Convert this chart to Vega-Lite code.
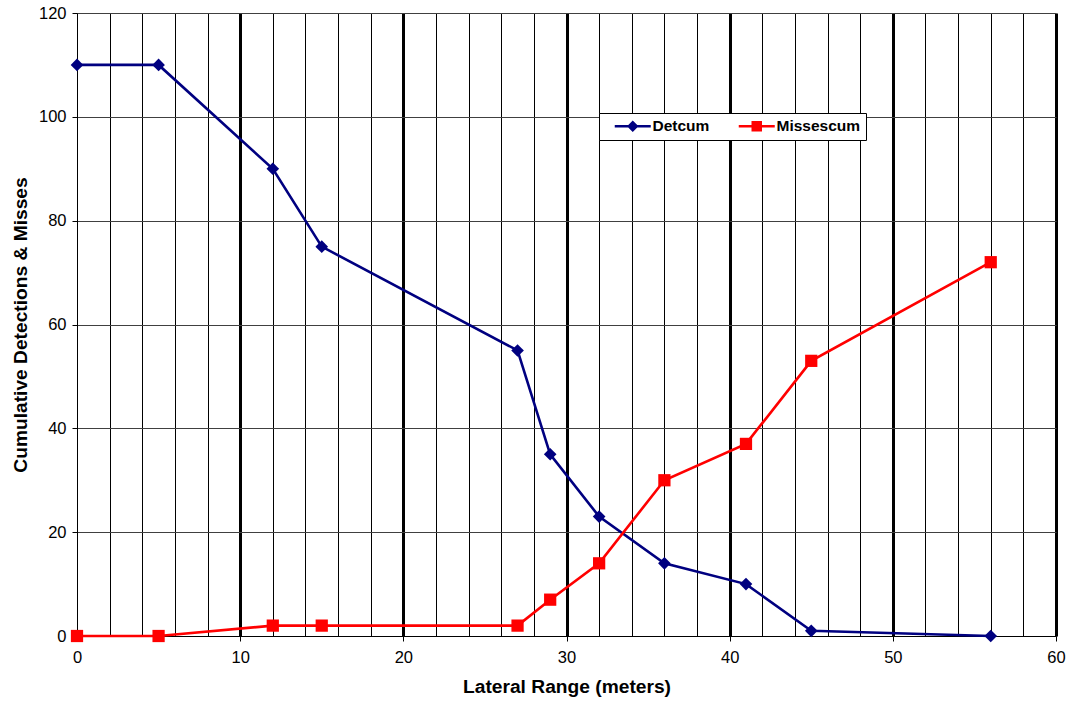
{
  "$schema": "https://vega.github.io/schema/vega-lite/v6.json",
  "autosize": "none",
  "width": 979,
  "height": 623,
  "padding": {"left": 77, "top": 13, "right": 16, "bottom": 69},
  "background": "white",
  "config": {"view": {"stroke": null}, "font": "Liberation Sans"},
  "data": {
    "values": [
      {"x": 0, "series": "Detcum", "value": 110},
      {"x": 5, "series": "Detcum", "value": 110},
      {"x": 12, "series": "Detcum", "value": 90},
      {"x": 15, "series": "Detcum", "value": 75},
      {"x": 27, "series": "Detcum", "value": 55},
      {"x": 29, "series": "Detcum", "value": 35},
      {"x": 32, "series": "Detcum", "value": 23},
      {"x": 36, "series": "Detcum", "value": 14},
      {"x": 41, "series": "Detcum", "value": 10},
      {"x": 45, "series": "Detcum", "value": 1},
      {"x": 56, "series": "Detcum", "value": 0},
      {"x": 0, "series": "Missescum", "value": 0},
      {"x": 5, "series": "Missescum", "value": 0},
      {"x": 12, "series": "Missescum", "value": 2},
      {"x": 15, "series": "Missescum", "value": 2},
      {"x": 27, "series": "Missescum", "value": 2},
      {"x": 29, "series": "Missescum", "value": 7},
      {"x": 32, "series": "Missescum", "value": 14},
      {"x": 36, "series": "Missescum", "value": 30},
      {"x": 41, "series": "Missescum", "value": 37},
      {"x": 45, "series": "Missescum", "value": 53},
      {"x": 56, "series": "Missescum", "value": 72}
    ]
  },
  "encoding": {
    "x": {
      "field": "x", "type": "quantitative",
      "scale": {"domain": [0, 60], "nice": false, "zero": false},
      "axis": {
        "title": "Lateral Range (meters)",
        "titleFont": "Liberation Sans", "titleFontSize": 19.2, "titleFontWeight": "bold", "titleColor": "black",
        "titlePadding": 12,
        "values": [0,2,4,6,8,10,12,14,16,18,20,22,24,26,28,30,32,34,36,38,40,42,44,46,48,50,52,54,56,58,60],
        "labelExpr": "datum.value % 10 === 0 ? datum.label : ''",
        "labelFont": "Liberation Sans", "labelFontSize": 16.5, "labelColor": "black",
        "labelPadding": 8, "labelFlush": false, "labelOverlap": false,
        "grid": true,
        "gridColor": "black",
        "gridOpacity": 1,
        "gridWidth": {"condition": {"test": "datum.value % 10 === 0 && datum.value > 0", "value": 3}, "value": 1},
        "ticks": true, "tickSize": 5, "tickColor": "black",
        "tickOpacity": {"condition": {"test": "datum.value % 10 === 0", "value": 1}, "value": 0},
        "domain": true, "domainColor": "black", "domainWidth": 1
      }
    },
    "y": {
      "field": "value", "type": "quantitative",
      "scale": {"domain": [0, 120], "nice": false},
      "axis": {
        "title": "Cumulative Detections & Misses",
        "titleFont": "Liberation Sans", "titleFontSize": 19.2, "titleFontWeight": "bold", "titleColor": "black",
        "titlePadding": 8,
        "values": [0, 20, 40, 60, 80, 100, 120],
        "labelFont": "Liberation Sans", "labelFontSize": 16.5, "labelColor": "black",
        "labelPadding": 6,
        "grid": true, "gridColor": "#404040", "gridWidth": 1, "gridOpacity": 1,
        "ticks": true, "tickSize": 5, "tickColor": "black",
        "domain": true, "domainColor": "black", "domainWidth": 1
      }
    },
    "color": {
      "field": "series", "type": "nominal",
      "scale": {"domain": ["Detcum", "Missescum"], "range": ["#000080", "#ff0000"]},
      "legend": {
        "orient": "none", "legendX": 522, "legendY": 100,
        "direction": "horizontal", "title": null,
        "strokeColor": "black", "fillColor": "white", "padding": 5, "cornerRadius": 0,
        "symbolSize": 100, "symbolStrokeWidth": 0, "symbolOffset": 21,
        "labelOffset": 12, "columnPadding": 18,
        "labelFont": "Liberation Sans", "labelFontSize": 15.5, "labelFontWeight": "bold", "labelColor": "black",
        "encoding": {
          "symbols": {
            "shape": {"value": {"signal": "datum.value === 'Detcum' ? 'M-3.6,-0.25H3.6V0.25H-3.6ZM0,-1.15L1.15,0L0,1.15L-1.15,0Z' : 'M-3.6,-0.25H3.6V0.25H-3.6ZM-1.05,-1.05H1.05V1.05H-1.05Z'"}},
            "fill": {"value": {"signal": "datum.value === 'Detcum' ? '#000080' : '#ff0000'"}},
            "strokeWidth": {"value": 0},
            "opacity": {"value": 1}
          }
        }
      }
    }
  },
  "layer": [
    {
      "mark": {"type": "line", "strokeWidth": 2.6},
      "encoding": {}
    },
    {
      "transform": [{"filter": "datum.series === 'Detcum'"}],
      "mark": {"type": "point", "filled": true, "opacity": 1, "shape": "diamond", "size": 160},
      "encoding": {}
    },
    {
      "transform": [{"filter": "datum.series === 'Missescum'"}],
      "mark": {"type": "point", "filled": true, "opacity": 1, "shape": "square", "size": 150},
      "encoding": {}
    }
  ]
}
